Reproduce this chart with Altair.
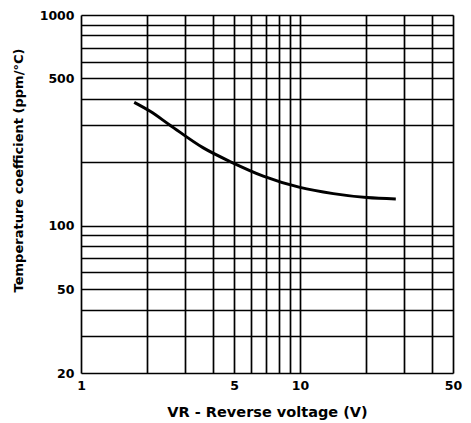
import altair as alt
import pandas as pd

# Curve
vr = [1.75, 2.07, 2.55, 3.62, 4.88, 6.8, 10.0, 14.2, 20.2, 27.4]
tc = [385, 349, 300, 234, 200, 172, 152, 142, 136, 134]

x_grid = [1, 2, 3, 4, 5, 6, 7, 8, 9, 10, 20, 30, 40, 50]
x_labels = [1, 5, 10, 50]
y_grid = [20, 30, 40, 50, 60, 70, 80, 90, 100, 200, 300, 400, 500, 600, 700, 800, 900, 1000]
y_labels = [20, 50, 100, 500, 1000]

df = pd.DataFrame({"vr": vr, "tc": tc})

FONT = "DejaVu Sans"

x_expr = "indexof([" + ",".join(str(v) for v in x_labels) + "], datum.value) >= 0 ? datum.label : ''"
y_expr = "indexof([" + ",".join(str(v) for v in y_labels) + "], datum.value) >= 0 ? datum.label : ''"

chart = alt.Chart(df).mark_line(color="black", strokeWidth=3, interpolate="monotone").encode(
    x=alt.X("vr:Q",
            scale=alt.Scale(type="log", domain=[1, 50], nice=False),
            axis=alt.Axis(values=x_grid, labelExpr=x_expr, format="d",
                          title="VR - Reverse voltage (V)",
                          titleX=186, titleY=39, titleBaseline="middle",
                          grid=True, gridColor="black", gridWidth=1.7, gridOpacity=1,
                          ticks=False, domain=False, labelPadding=6,
                          labelFont=FONT, labelFontSize=12.5, labelFontWeight="bold",
                          labelColor="black", labelFlush=False,
                          titleFont=FONT, titleFontSize=14.5, titleFontWeight="bold",
                          titleColor="black")),
    y=alt.Y("tc:Q",
            scale=alt.Scale(type="log", domain=[20, 1000], nice=False),
            axis=alt.Axis(values=y_grid, labelExpr=y_expr, format="d",
                          title="Temperature coefficient (ppm/°C)",
                          titleX=-63, titleY=155, titleAngle=-90,
                          titleAlign="center", titleBaseline="middle",
                          grid=True, gridColor="black", gridWidth=1.7, gridOpacity=1,
                          ticks=False, domain=False, labelPadding=7,
                          labelFont=FONT, labelFontSize=12.5, labelFontWeight="bold",
                          labelColor="black", labelFlush=False,
                          titleFont=FONT, titleFontSize=13, titleFontWeight="bold",
                          titleColor="black")),
).properties(
    width=372, height=358,
    autosize=alt.AutoSizeParams(type="none"),
    padding={"left": 73, "top": 7, "right": 10, "bottom": 50},
).configure_view(
    stroke="black", strokeWidth=3
).configure(background="white")

chart.save("out.html", embed_options={"renderer": "svg", "actions": False})
